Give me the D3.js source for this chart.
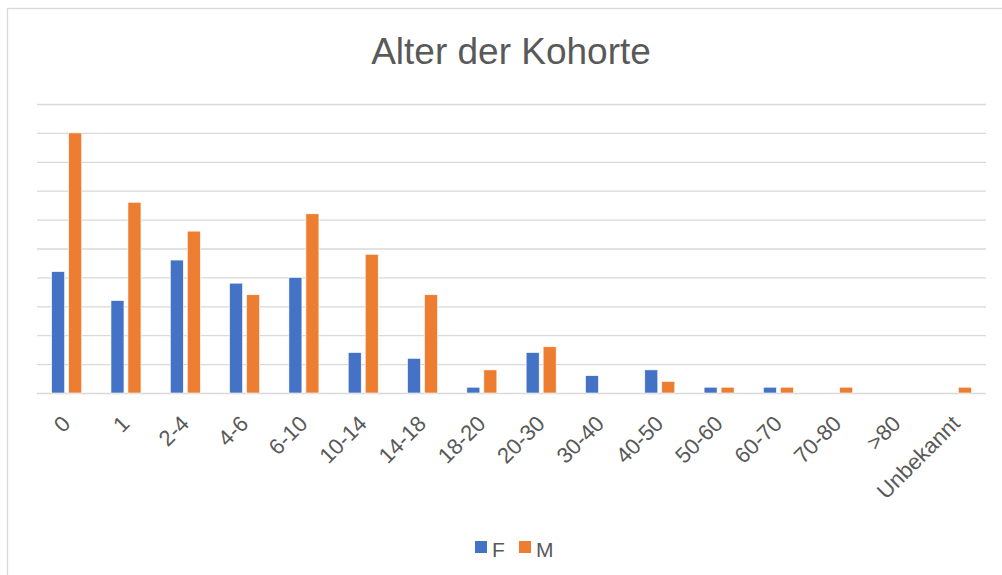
<!DOCTYPE html>
<html>
<head>
<meta charset="utf-8">
<script src="https://cdn.jsdelivr.net/npm/d3@7"></script>
<style>
  body { margin: 0; background: #fff; }
  svg { display: block; font-family: "Liberation Sans", Arial, sans-serif; }
</style>
</head>
<body>
<svg></svg>
<script>
var width = 1002;
var height = 575;

var categories = ["0", "1", "2-4", "4-6", "6-10", "10-14", "14-18", "18-20", "20-30",
                  "30-40", "40-50", "50-60", "60-70", "70-80", ">80", "Unbekannt"];
var seriesNames = ["F", "M"];
var valuesF = [21, 16, 23, 19, 20, 7, 6, 1, 7, 3, 4, 1, 1, 0, 0, 0];
var valuesM = [45, 33, 28, 17, 31, 24, 17, 4, 8, 0, 2, 1, 1, 1, 0, 1];
var gridTicks = [0, 5, 10, 15, 20, 25, 30, 35, 40, 45, 50];
var colors = { F: "#4472C4", M: "#ED7D31" };

var plot = { left: 37, right: 986, top: 104, bottom: 393 };

var svg = d3.select("svg")
    .attr("width", width)
    .attr("height", height);

// chart frame (runs off the right and bottom edge)
svg.append("rect")
    .attr("x", 7.5)
    .attr("y", 8.5)
    .attr("width", width)
    .attr("height", height)
    .attr("fill", "none")
    .attr("stroke", "#D9D9D9")
    .attr("stroke-width", 1.3);

var xScale = d3.scaleBand()
    .domain(categories)
    .range([plot.left, plot.right]);

var half = 15;
var xInner = d3.scaleBand()
    .domain(seriesNames)
    .range([xScale.bandwidth() / 2 - half, xScale.bandwidth() / 2 + half])
    .paddingInner(0.235);

var yScale = d3.scaleLinear()
    .domain([0, 50])
    .range([plot.bottom, plot.top]);

// gridlines
svg.append("g")
    .attr("transform", "translate(" + plot.left + ",0)")
    .call(d3.axisLeft(yScale)
            .tickValues(gridTicks)
            .tickSize(-(plot.right - plot.left))
            .tickFormat(""))
    .call(g => g.select(".domain").remove())
    .selectAll("line")
      .attr("stroke", "#D9D9D9")
      .attr("stroke-width", 1.3);

// title
svg.append("text")
    .attr("x", 511)
    .attr("y", 64)
    .style("text-anchor", "middle")
    .style("font-size", "37px")
    .attr("fill", "#595959")
    .text("Alter der Kohorte");

// bars
var rows = categories.map((c, i) => ({ cat: c, F: valuesF[i], M: valuesM[i] }));

var groups = svg.selectAll("g.cat")
    .data(rows)
  .enter()
    .append("g")
    .attr("class", "cat")
    .attr("transform", d => "translate(" + xScale(d.cat) + ",0)");

groups.selectAll("rect")
    .data(d => seriesNames.map(s => ({ key: s, value: d[s] })))
  .enter()
    .append("rect")
    .attr("x", d => xInner(d.key))
    .attr("y", d => yScale(d.value))
    .attr("width", xInner.bandwidth())
    .attr("height", d => yScale(0) - yScale(d.value))
    .attr("fill", d => colors[d.key])
    .attr("stroke", "#fff")
    .attr("stroke-width", d => d.value > 0 ? 0.6 : 0);

// category labels
var xAxis = svg.append("g")
    .attr("transform", "translate(0," + plot.bottom + ")")
    .call(d3.axisBottom(xScale).tickSize(0));

xAxis.select(".domain").remove();

xAxis.selectAll("text")
    .attr("fill", "#595959")
    .style("font-size", "22px")
    .style("font-family", "\"Liberation Sans\", Arial, sans-serif")
    .style("text-anchor", "end")
    .attr("dy", null)
    .attr("y", 0)
    .attr("x", 0)
    .attr("transform", "translate(5,32) rotate(-45)");

// legend
var legend = svg.append("g")
    .attr("transform", "translate(475,541)");

legend.selectAll("rect")
    .data(seriesNames)
  .enter()
    .append("rect")
    .attr("x", (d, i) => i * 44)
    .attr("y", 0)
    .attr("width", 12)
    .attr("height", 12)
    .attr("fill", d => colors[d]);

legend.selectAll("text")
    .data(seriesNames)
  .enter()
    .append("text")
    .attr("x", (d, i) => i * 44 + 17)
    .attr("y", 15.5)
    .attr("fill", "#595959")
    .style("font-size", "21px")
    .text(d => d);
</script>
</body>
</html>
